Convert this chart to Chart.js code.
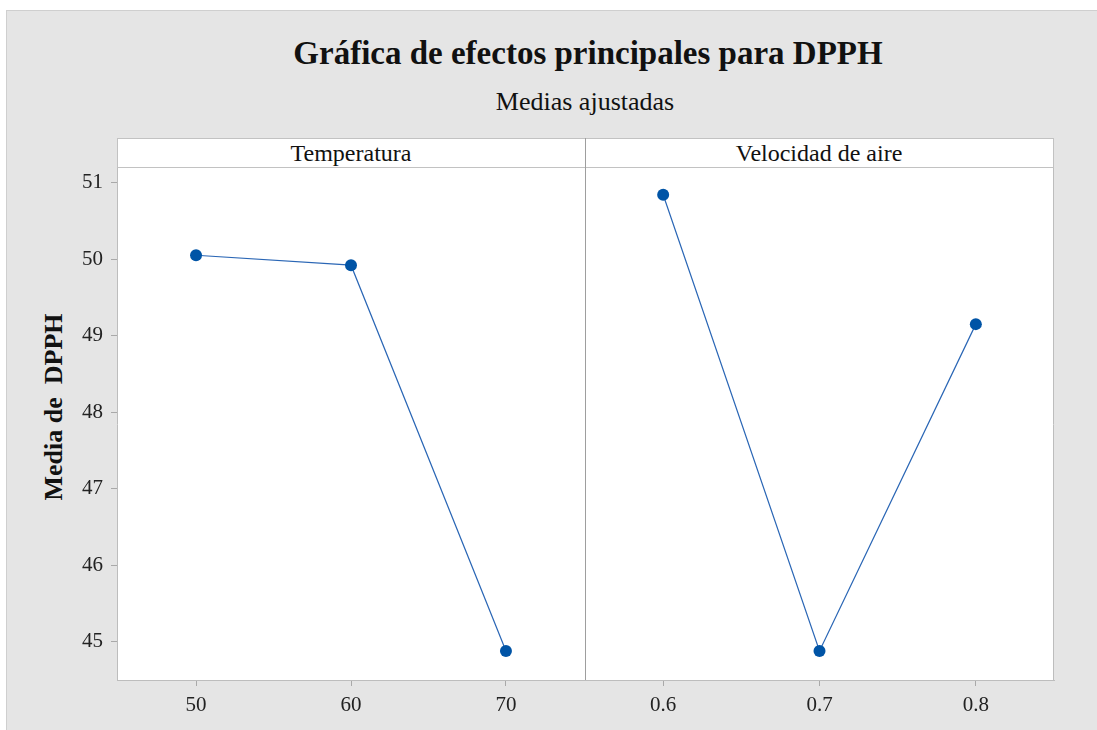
<!DOCTYPE html>
<html>
<head>
<meta charset="utf-8">
<title>Gráfica de efectos principales para DPPH</title>
<script src="https://cdn.jsdelivr.net/npm/chart.js@4.4.1/dist/chart.umd.min.js"></script>
<style>
  body { margin: 0; width: 1097px; height: 730px; overflow: hidden; background: #fff; font-family: "Liberation Serif", "Times New Roman", serif; }
  #fondo { position: absolute; left: 6px; top: 10px; width: 1091px; height: 720px; background: #e5e5e5; border-top: 1px solid #cfcfcf; border-left: 1px solid #cfcfcf; box-sizing: border-box; }
  .texto { position: absolute; white-space: pre; color: #111; text-align: center; transform: translateX(-50%); }
  #titulo { left: 588px; top: 33px; font-size: 33px; line-height: 40px; font-weight: bold; }
  #subtitulo { left: 585px; top: 87px; font-size: 26px; line-height: 30px; }
  #franja { position: absolute; left: 117px; top: 138px; width: 937px; height: 30px; background: #fff; border: 1px solid #c2c2c2; box-sizing: border-box; }
  #divFranja { position: absolute; left: 585px; top: 138px; width: 1px; height: 30px; background: #9e9e9e; }
  .etiqueta { top: 138px; font-size: 24px; line-height: 30px; }
  #tituloY { position: absolute; left: -96px; top: 392px; width: 300px; line-height: 30px; font-size: 26px; font-weight: bold; text-align: center; color: #111; white-space: pre; transform: rotate(-90deg); }
  .caja { position: absolute; top: 144px; height: 586px; }
</style>
</head>
<body>
<div id="fondo"></div>
<div id="titulo" class="texto">Gráfica de efectos principales para DPPH</div>
<div id="subtitulo" class="texto">Medias ajustadas</div>
<div id="franja"></div>
<div id="divFranja"></div>
<div class="texto etiqueta" style="left:351px">Temperatura</div>
<div class="texto etiqueta" style="left:819px">Velocidad de aire</div>
<div id="tituloY">Media de  DPPH</div>
<div class="caja" style="left:0px;width:595px"><canvas id="graficoTemp"></canvas></div>
<div class="caja" style="left:575px;width:495px"><canvas id="graficoVel"></canvas></div>

<script>
// Datos
const tempNiveles = [50, 60, 70];
const tempEtiquetas = ['50', '60', '70'];
const tempMedias = [50.05, 49.92, 44.88];

const velNiveles = [0.6, 0.7, 0.8];
const velEtiquetas = ['0.6', '0.7', '0.8'];
const velMedias = [50.84, 44.88, 49.15];

const yTicks = [45, 46, 47, 48, 49, 50, 51];

const AZUL_PUNTO = '#0054a6';
const AZUL_LINEA = '#2a66b5';
const GRIS_EJE = '#bdbdbd';
const GRIS_DIV = '#9e9e9e';
const fuenteTicks = { family: 'Liberation Serif', size: 21 };

// fondo blanco del área y bordes que no dibujan las escalas
const marcoPanel = {
  id: 'marcoPanel',
  beforeDraw(chart) {
    const a = chart.chartArea;
    const ctx = chart.ctx;
    ctx.save();
    ctx.fillStyle = '#fff';
    ctx.fillRect(a.left, a.top, a.right - a.left, a.bottom - a.top);
    ctx.restore();
  },
  afterDraw(chart, args, opts) {
    const a = chart.chartArea;
    const ctx = chart.ctx;
    ctx.save();
    ctx.lineWidth = 1;
    if (opts.izquierda) {
      ctx.strokeStyle = GRIS_DIV;
      ctx.beginPath();
      ctx.moveTo(Math.round(a.left) + 0.5, a.top);
      ctx.lineTo(Math.round(a.left) + 0.5, a.bottom);
      ctx.stroke();
    }
    if (opts.derecha) {
      ctx.strokeStyle = GRIS_EJE;
      ctx.beginPath();
      ctx.moveTo(Math.round(a.right) - 0.5, a.top);
      ctx.lineTo(Math.round(a.right) - 0.5, a.bottom + 1);
      ctx.stroke();
    }
    ctx.restore();
  }
};

function crearPanel(id, niveles, etiquetas, medias, xMin, xMax, conEjeY, padding, marco) {
  const puntos = niveles.map((x, i) => ({ x: x, y: medias[i] }));
  return new Chart(document.getElementById(id), {
    type: 'line',
    data: {
      datasets: [{
        data: puntos,
        borderColor: AZUL_LINEA,
        borderWidth: 1.2,
        pointBackgroundColor: AZUL_PUNTO,
        pointBorderColor: AZUL_PUNTO,
        pointBorderWidth: 0,
        pointRadius: 6,
        tension: 0,
        fill: false
      }]
    },
    options: {
      responsive: true,
      maintainAspectRatio: false,
      animation: false,
      layout: { padding: padding },
      scales: {
        x: {
          type: 'linear',
          min: xMin,
          max: xMax,
          afterBuildTicks: (s) => { s.ticks = niveles.map(v => ({ value: v })); },
          afterFit: (s) => { s.height = 50; },
          grid: { display: true, drawOnChartArea: false, drawTicks: true, tickLength: 6, color: '#a9a9a9' },
          border: { display: true, color: GRIS_EJE },
          ticks: {
            font: fuenteTicks,
            color: '#222',
            padding: 7,
            maxRotation: 0,
            callback: (v) => etiquetas[niveles.indexOf(v)]
          }
        },
        y: {
          display: conEjeY,
          min: 44.5,
          max: 51.19,
          afterBuildTicks: (s) => { s.ticks = yTicks.map(v => ({ value: v })); },
          afterFit: (s) => {
            s.width = conEjeY ? 117 : 0;
            s.paddingTop = 0;
            s.paddingBottom = 0;
          },
          grid: { display: true, drawOnChartArea: false, drawTicks: true, tickLength: 6, color: '#a9a9a9' },
          border: { display: true, color: GRIS_EJE },
          ticks: { font: fuenteTicks, color: '#222', padding: 8 }
        }
      },
      plugins: {
        legend: { display: false },
        tooltip: { enabled: false },
        marcoPanel: marco
      }
    },
    plugins: [marcoPanel]
  });
}

crearPanel('graficoTemp', tempNiveles, tempEtiquetas, tempMedias, 44.9, 75.1, true,
  { top: 24, right: 10, left: 0, bottom: 0 }, { izquierda: false, derecha: false });
crearPanel('graficoVel', velNiveles, velEtiquetas, velMedias, 0.55, 0.85, false,
  { top: 24, right: 16, left: 10, bottom: 0 }, { izquierda: true, derecha: true });
</script>
</body>
</html>
